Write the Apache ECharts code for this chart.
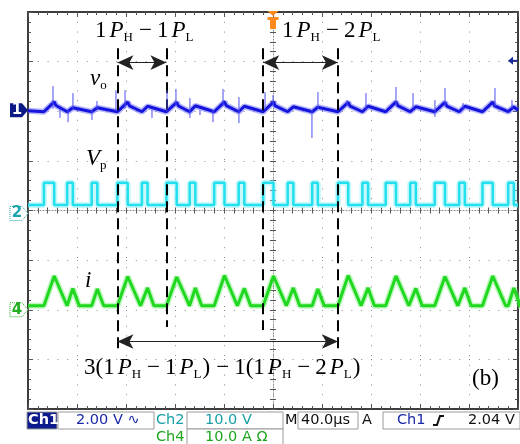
<!DOCTYPE html>
<html>
<head>
<meta charset="utf-8">
<script src="https://cdn.jsdelivr.net/npm/echarts@6.0.0/dist/echarts.min.js"></script>
<style>
  html, body { margin: 0; padding: 0; background: #fff; }
  #c { width: 520px; height: 444px; }
</style>
</head>
<body>
<div id="c"></div>
<script>
// ---- time base: µs, trigger at 0, 40 µs/div ----
const timeRange = [-200, 200];

// gate pulses (start time, µs) and their kind: H = high-power pulse, L = low-power pulse
const pulseStart = [-187, -168, -148, -127, -107, -87, -68, -48, -28, -8, 12, 32, 53, 73, 92, 112, 132, 152, 171, 192];
const pulseKind  = ['H', 'L', 'L', 'H', 'L', 'H', 'L', 'H', 'L', 'H', 'L', 'L', 'H', 'L', 'H', 'L', 'H', 'L', 'H', 'L'];
const pulseWidth = { H: 8.4, L: 4.6 };          // µs

// Ch2: Vp levels (V)
const vpLow = 1.1;
const vpHigh = 5.6;

// Ch4: inductor current i (A)
const iBase = 0.8;
const iPeak = [6.8, 4.3, 4.2, 6.7, 4.4, 6.6, 4.4, 6.9, 4.3, 6.8, 4.4, 4.2, 6.9, 4.4, 6.8, 4.3, 6.7, 4.4, 6.8, 4.4];
const iFall = { H: 10.5, L: 5.2 };              // µs

// Ch1: output ripple vo (V, AC coupled)
const voBase = -0.02;
const voPeak = [0.38, 0.14, 0.14, 0.37, 0.2, 0.36, 0.22, 0.38, 0.2, 0.37, 0.18, 0.16, 0.36, 0.2, 0.38, 0.18, 0.36, 0.2, 0.37, 0.18];
const voDrop = 0.15;
// switching spikes on vo: [time µs, low V, high V]
const voSpikes = [
  [-179.6, 0.1, 1.02], [-173.9, -0.27, 0.1], [-167.3, -0.44, 0.05], [-163.3, 0.1, 0.73],
  [-147.8, -0.35, 0.05], [-143.7, 0.1, 0.41], [-128.2, 0.0, 0.85], [-120.8, 0.1, 0.85],
  [-98.8, -0.27, 0.05], [-86.5, 0.0, 0.85], [-79.2, 0.2, 0.9], [-67.8, -0.27, 0.53],
  [-59.6, -0.15, 0.05], [-49.0, -0.44, 0.05], [-40.8, 0.2, 0.9], [-27.8, -0.48, 0.57],
  [-6.5, 0.1, 0.77], [0, 0.2, 0.65], [31.8, -1.08, 0.05], [36.7, 0.1, 0.77],
  [60.4, 0.2, 0.45], [75.9, 0.1, 0.73], [100.4, 0.2, 0.98], [114.3, 0.1, 0.73],
  [132.2, -0.23, 0.45], [140.4, 0.2, 0.94], [155.1, 0.1, 0.33], [181.2, 0.2, 0.94], [195.1, 0.1, 0.45]
];

// channel settings: volts (amps) per division and ground position in divisions
const ch1 = { perDiv: 2, ground: 2, trigLevel: 2.04 };
const ch2 = { perDiv: 10, ground: 0 };
const ch4 = { perDiv: 10, ground: -2 };

// pulse indices that the annotation cursors sit on
const cursorPulses = [3, 5, 9, 12];

// ---- build polylines ----
function vpTrace() {
  const pts = [[timeRange[0], vpLow]];
  pulseStart.forEach((t0, k) => {
    const w = pulseWidth[pulseKind[k]];
    pts.push([t0, vpLow], [t0, vpHigh], [t0 + w, vpHigh], [t0 + w, vpLow]);
  });
  pts.push([timeRange[1], vpLow]);
  return pts;
}
function iTrace() {
  const pts = [[timeRange[0], iBase]];
  pulseStart.forEach((t0, k) => {
    const kind = pulseKind[k], w = pulseWidth[kind];
    pts.push([t0, iBase], [t0 + w, iPeak[k]], [t0 + w + iFall[kind], iBase]);
  });
  pts.push([timeRange[1], iBase]);
  return pts;
}
function voTrace() {
  const pts = [[timeRange[0], voBase + 0.04]];
  pulseStart.forEach((t0, k) => {
    const kind = pulseKind[k], w = pulseWidth[kind];
    pts.push([t0, voBase], [t0 + w, voPeak[k]]);
    if (kind === 'H') pts.push([t0 + w + 1.5, voPeak[k] - voDrop]);
  });
  pts.push([timeRange[1], voBase + 0.06]);
  return pts;
}
function spikeTrace() {
  const pts = [];
  voSpikes.forEach(([t, lo, hi]) => { pts.push([t, lo], [t, hi], null); });
  return pts;
}
function range(ch) {
  return { min: (-4 - ch.ground) * ch.perDiv, max: (4 - ch.ground) * ch.perDiv };
}

const SERIF = 'Liberation Serif';
const SANS = 'DejaVu Sans';
const INK = '#111';

const chart = echarts.init(document.getElementById('c'), null, { renderer: 'canvas' });

const gridDots = { color: '#8a8a8a', width: 1, type: [1, 8.8] };
const tickStyle = { color: '#555', width: 1 };
const frameStyle = { color: '#3c3c3c', width: 2 };

function timeAxis(extra) {
  return Object.assign({
    type: 'value', min: timeRange[0], max: timeRange[1], interval: 40,
    axisLabel: { show: false }, splitLine: { show: false }
  }, extra);
}
function divAxis(extra) {
  return Object.assign({
    type: 'value', min: -4, max: 4, interval: 1,
    axisLabel: { show: false }, splitLine: { show: false }
  }, extra);
}
function hiddenAxis(ch) {
  return Object.assign({ type: 'value', show: false, axisLine: { onZero: false }, splitLine: { show: false } }, range(ch));
}

function traceSeries(name, yIdx, data, core, halo, coreW, haloW) {
  return [
    { name: name + '-halo', type: 'line', xAxisIndex: 0, yAxisIndex: yIdx, data: data, showSymbol: false,
      lineStyle: { color: halo, width: haloW, opacity: 0.45 }, silent: true, z: 3 },
    { name: name, type: 'line', xAxisIndex: 0, yAxisIndex: yIdx, data: data, showSymbol: false,
      lineStyle: { color: core, width: coreW }, silent: true, z: 4 }
  ];
}

const cursorT = cursorPulses.map(k => pulseStart[k]);
const dashStyle = { color: '#000', width: 2, type: [11, 6] };
const arrowStyle = { color: '#222', width: 1, type: 'solid' };

const option = {
  animation: false,
  backgroundColor: '#fff',
  grid: { left: 28, top: 12, width: 490, height: 397, containLabel: false },
  xAxis: [
    timeAxis({ position: 'bottom',
      axisLine: { show: true, onZero: true, onZeroAxisIndex: 0, lineStyle: { color: '#8c8c8c', width: 1, type: [1, 2] } },
      axisTick: { show: true, length: 3, lineStyle: tickStyle },
      minorTick: { show: true, splitNumber: 5, length: 3, lineStyle: tickStyle },
      splitLine: { show: true, lineStyle: gridDots } }),
    timeAxis({ position: 'top',
      axisLine: { show: false, onZero: true, onZeroAxisIndex: 0 },
      axisTick: { show: true, length: 3, lineStyle: tickStyle },
      minorTick: { show: true, splitNumber: 5, length: 3, lineStyle: tickStyle } }),
    timeAxis({ position: 'bottom',
      axisLine: { show: true, onZero: false, lineStyle: frameStyle },
      axisTick: { show: true, inside: true, length: 5, lineStyle: tickStyle },
      minorTick: { show: true, splitNumber: 5, length: 3, lineStyle: tickStyle } }),
    timeAxis({ position: 'top',
      axisLine: { show: true, onZero: false, lineStyle: frameStyle },
      axisTick: { show: true, inside: true, length: 5, lineStyle: tickStyle },
      minorTick: { show: true, splitNumber: 5, length: 3, lineStyle: tickStyle } })
  ],
  yAxis: [
    divAxis({ position: 'left',
      axisLine: { show: true, onZero: true, onZeroAxisIndex: 0, lineStyle: { color: '#8c8c8c', width: 1, type: [1, 2] } },
      axisTick: { show: true, length: 3, lineStyle: tickStyle },
      minorTick: { show: true, splitNumber: 5, length: 3, lineStyle: tickStyle },
      splitLine: { show: true, lineStyle: gridDots } }),
    divAxis({ position: 'right',
      axisLine: { show: false, onZero: true, onZeroAxisIndex: 0 },
      axisTick: { show: true, length: 3, lineStyle: tickStyle },
      minorTick: { show: true, splitNumber: 5, length: 3, lineStyle: tickStyle } }),
    divAxis({ position: 'left',
      axisLine: { show: true, onZero: false, lineStyle: frameStyle },
      axisTick: { show: true, inside: true, length: 5, lineStyle: tickStyle },
      minorTick: { show: true, splitNumber: 5, length: 3, lineStyle: tickStyle } }),
    divAxis({ position: 'right',
      axisLine: { show: true, onZero: false, lineStyle: frameStyle },
      axisTick: { show: true, inside: true, length: 5, lineStyle: tickStyle },
      minorTick: { show: true, splitNumber: 5, length: 3, lineStyle: tickStyle } }),
    hiddenAxis(ch1),
    hiddenAxis(ch2),
    hiddenAxis(ch4)
  ],
  series: [
    ...traceSeries('Vp', 5, vpTrace(), '#22e0ee', '#86f0f8', 2.5, 6),
    ...traceSeries('i', 6, iTrace(), '#1fd81f', '#74ee74', 3, 6),
    ...traceSeries('vo', 4, voTrace(), '#1414dc', '#5a5af8', 3, 6),
    { name: 'vo-spikes', type: 'line', xAxisIndex: 0, yAxisIndex: 4, data: spikeTrace(), showSymbol: false,
      connectNulls: false, lineStyle: { color: '#4e4ef2', width: 1 }, silent: true, z: 5 },
    { name: 'cursors', type: 'line', xAxisIndex: 0, yAxisIndex: 0, data: [], silent: true, z: 8,
      markLine: {
        silent: true, animation: false, symbol: ['none', 'none'], label: { show: false },
        lineStyle: dashStyle, emphasis: { disabled: true },
        data: [
          [{ coord: [cursorT[0], 3.27] }, { coord: [cursorT[0], -2.87] }],
          [{ coord: [cursorT[1], 3.27] }, { coord: [cursorT[1], -2.35] }],
          [{ coord: [cursorT[2], 3.27] }, { coord: [cursorT[2], -2.41] }],
          [{ coord: [cursorT[3], 3.27] }, { coord: [cursorT[3], -2.81] }]
        ]
      } },
    { name: 'spans', type: 'line', xAxisIndex: 0, yAxisIndex: 0, data: [], silent: true, z: 9,
      markLine: {
        silent: true, animation: false, symbol: ['arrow', 'arrow'], symbolSize: [11, 16],
        label: { show: false }, lineStyle: arrowStyle, emphasis: { disabled: true },
        data: [
          [{ coord: [cursorT[0], 2.98] }, { coord: [cursorT[1], 2.98] }],
          [{ coord: [cursorT[2], 2.98] }, { coord: [cursorT[3], 2.98] }],
          [{ coord: [cursorT[0], -2.64] }, { coord: [cursorT[3], -2.64] }]
        ]
      } }
  ]
};
chart.setOption(option);

// ---- annotations and scope read-outs ----
const mathRich = {
  n: { fontFamily: SERIF, fontSize: 23, lineHeight: 26, color: INK, padding: [0, 1, 0, 0] },
  i: { fontFamily: SERIF, fontStyle: 'italic', fontSize: 23, lineHeight: 26, color: INK, padding: [0, 0, 0, 2] },
  s: { fontFamily: SERIF, fontSize: 13, lineHeight: 12, verticalAlign: 'bottom', color: INK, padding: [0, 1, 0, 0] },
  m: { fontFamily: SERIF, fontSize: 23, lineHeight: 26, padding: [0, 5], color: INK }
};
function mathText(x, top, text) {
  return { type: 'text', x: x, y: top, z: 20, silent: true,
    style: { text: text, rich: mathRich, textAlign: 'left', textVerticalAlign: 'top' } };
}
const pH1L = '{n|1}{i|P}{s|H}{m|−}{n|1}{i|P}{s|L}';
const pH2L = '{n|1}{i|P}{s|H}{m|−}{n|2}{i|P}{s|L}';

const px = (xi, yi, t, v) => chart.convertToPixel({ xAxisIndex: xi, yAxisIndex: yi }, [t, v]);
const g1 = px(0, 4, 0, 0)[1];
const g2 = px(0, 5, 0, 0)[1];
const g4 = px(0, 6, 0, 0)[1];
const trigX = px(0, 0, 0, 0)[0];
const trigY = px(0, 4, 0, ch1.trigLevel)[1];

function chMarker(yc, label, color, filled) {
  const pts = [[10, yc - 7], [22, yc - 7], [28, yc], [22, yc + 7], [10, yc + 7]];
  return [
    { type: 'polygon', shape: { points: pts }, z: 20, silent: true,
      style: filled ? { fill: color } : { fill: '#fff', stroke: color, lineWidth: 1, lineDash: [1, 1] } },
    { type: 'text', x: 17, y: yc, z: 21, silent: true,
      style: { text: label, fill: filled ? '#fff' : color, font: 'bold 15px ' + SANS, textAlign: 'center', textVerticalAlign: 'middle' } }
  ];
}
function box(x, y, w, h, fill) {
  return { type: 'rect', shape: { x: x, y: y, width: w, height: h }, z: 20, silent: true,
    style: { fill: fill || '#fff', stroke: '#9a9a9a', lineWidth: 1 } };
}
function txt(x, y, s, color, weight) {
  return { type: 'text', x: x, y: y, z: 21, silent: true,
    style: { text: s, fill: color, font: (weight || 'normal') + ' 14.5px ' + SANS, textAlign: 'left', textVerticalAlign: 'middle' } };
}

const r1 = 420.5, r2 = 437;
chart.setOption({
  graphic: [
    mathText(95, 18, pH1L),
    mathText(282, 18, pH2L),
    mathText(88, 66, '{i|v}{s|o}'),
    mathText(84, 146, '{i|V}{s|p}'),
    mathText(83, 268, '{i|i}'),
    mathText(84, 355, '{n|3(1}{i|P}{s|H}{m|−}{n|1}{i|P}{s|L}{n|)}{m|−}{n|1(1}{i|P}{s|H}{m|−}{n|2}{i|P}{s|L}{n|)}'),
    mathText(472, 366, '{n|(b)}'),
    // trigger position marker
    { type: 'polygon', z: 20, silent: true, shape: { points: [[trigX - 5.5, 11], [trigX + 5.5, 11], [trigX, 16]] }, style: { fill: '#ff8a1c' } },
    { type: 'rect', z: 20, silent: true, shape: { x: trigX - 5.5, y: 17, width: 11, height: 3 }, style: { fill: '#ff8a1c' } },
    { type: 'rect', z: 20, silent: true, shape: { x: trigX - 3, y: 20, width: 6, height: 9 }, style: { fill: '#ff8a1c' } },
    // trigger level marker
    { type: 'polygon', z: 20, silent: true, shape: { points: [[508, trigY], [513, trigY - 4], [513, trigY + 4]] }, style: { fill: '#1a2a9e' } },
    { type: 'line', z: 20, silent: true, shape: { x1: 512, y1: trigY, x2: 518, y2: trigY }, style: { stroke: '#1a2a9e', lineWidth: 1.5 } },
    ...chMarker(g1 - 1, '1', '#0c1a86', true),
    ...chMarker(g2 + 3, '2', '#1aa4ac', false),
    ...chMarker(g4, '4', '#22b022', false),
    // read-out bar
    box(27, 412, 30, 17, '#0c1a8c'),
    txt(28, r1, 'Ch1', '#fff', 'bold'),
    box(58, 412, 96, 17),
    txt(76, r1, '2.00 V ∿', '#1a28a8'),
    txt(156, r1, 'Ch2', '#17a0a6'),
    box(187, 412, 96, 17),
    txt(205, r1, '10.0 V', '#17a0a6'),
    txt(285, r1, 'M', '#111'),
    box(298, 412, 60, 17),
    txt(301, r1, '40.0µs', '#111'),
    txt(362, r1, 'A', '#111'),
    box(383, 412, 137, 17),
    txt(397, r1, 'Ch1', '#1a28a8'),
    { type: 'polyline', z: 21, silent: true, shape: { points: [[433, 425], [437, 425], [440, 416], [444, 416]] },
      style: { stroke: '#111', lineWidth: 2, fill: null } },
    txt(468, r1, '2.04 V', '#111'),
    txt(156, r2, 'Ch4', '#1fa51f'),
    box(187, 429, 96, 16),
    txt(205, r2, '10.0 A Ω', '#1fa51f')
  ]
});
</script>
</body>
</html>
